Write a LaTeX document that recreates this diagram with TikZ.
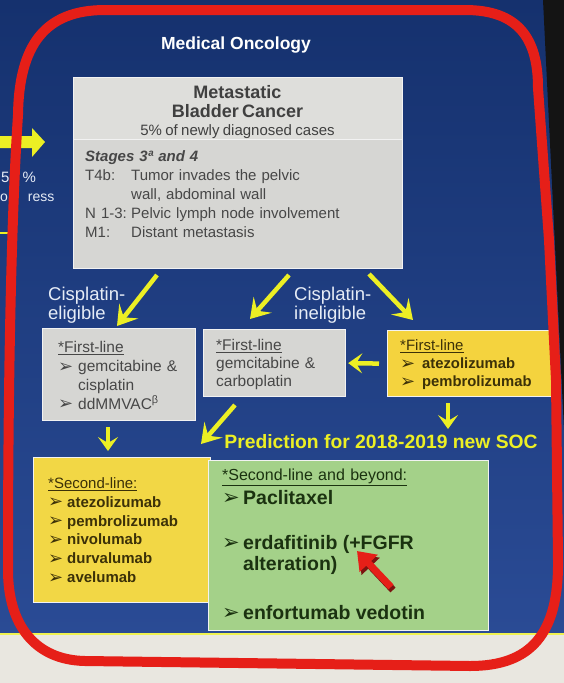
\documentclass[tikz,border=0pt]{standalone}
\usepackage{fontspec}
\setmainfont{Liberation Sans}
\newfontfamily\symfont{DejaVu Sans}
\usetikzlibrary{arrows.meta,positioning}

\definecolor{slidetop}{HTML}{15316E}
\definecolor{slidebot}{HTML}{2A4B95}
\definecolor{floorgray}{HTML}{E9E7E0}
\definecolor{boxgray}{HTML}{D6D6D3}
\definecolor{headgray}{HTML}{DEDEDB}
\definecolor{ioyellow}{HTML}{F4D33E}
\definecolor{soyellow}{HTML}{F2D745}
\definecolor{socgreen}{HTML}{A4D189}
\definecolor{penred}{HTML}{E61F18}
\definecolor{penshade}{HTML}{7A1410}
\definecolor{arrowyellow}{HTML}{ECEF24}
\definecolor{labelwhite}{HTML}{E6ECF6}
\definecolor{graytext}{HTML}{474747}
\definecolor{yellowtext}{HTML}{3C3108}
\definecolor{greentext}{HTML}{1B3210}

\newcommand{\bul}[2][18]{\makebox[#2][l]{\raisebox{-0.5pt}{\symfont\fontsize{#1}{#1}\selectfont ➢}}}
\newcommand{\fs}[2]{\fontsize{#1}{#2}\selectfont}

\begin{document}
\begin{tikzpicture}[x=1pt,y=-1pt,
  panel/.style={draw=white!90!gray, line width=1.2pt, inner sep=0pt, anchor=north west},
  txt/.style={inner sep=0pt, anchor=north west, align=left},
  flow/.style={draw=arrowyellow, line width=4.5pt, -{Stealth[length=19pt,width=24pt,inset=8pt]}},
  shortflow/.style={flow, -{Stealth[length=14pt,width=20pt,inset=6pt]}},
  choice/.style={txt, text width=90pt, text=labelwhite, font=\fs{18.5}{19.5}}
]
\useasboundingbox (0,0) rectangle (564,683);

% slide and the room round it
\fill[floorgray] (0,0) rectangle (564,683);
\shade[top color=slidetop, bottom color=slidebot] (0,0) rectangle (564,634);
\fill[black!92] (543,0) -- (564,0) -- (564,430) -- cycle;
\draw[arrowyellow!80!white, line width=1.5pt] (0,634) -- (564,634);

% what is left of the slide before
\fill[arrowyellow] (0,136) -- (32,136) -- (32,128) -- (45,142) -- (32,157) -- (32,148) -- (0,148) -- cycle;
\node[inner sep=0pt, anchor=base west, text=labelwhite, font=\fs{15}{18}] (pct) at (1,182) {5\hspace{13pt}\%};
\node[inner sep=0pt, anchor=base west, text=labelwhite, font=\fs{14}{18}] (prog) at (0,201) {o\hspace{20pt}ress};
\draw[arrowyellow, line width=1.2pt] (0,233) -- (9,233);

\node[font=\bfseries\fs{17.5}{20}, text=white] (title) at (236,45) {Medical Oncology};

% metastatic bladder cancer
\node[panel, fill=boxgray, minimum width=329pt, minimum height=191pt] (mbc) at (73,77) {};
\node[panel, fill=headgray, minimum width=329pt, minimum height=62pt] (mbchead) at (73,77) {};
\node[txt, anchor=north, align=center, text width=320pt, text=black!75] (mbctitle) at (237.5,85.5)
  {\bfseries\fs{18}{19}Metastatic\\Bladder Cancer\par\mdseries\fs{15}{18}5\% of newly diagnosed cases\par};
\node[txt, text width=315pt, text=graytext, font=\fs{15}{19}] (stages) at ([shift={(12,73.5)}]mbc.north west)
  {{\bfseries\itshape Stages 3ª and 4}\\
   \makebox[46pt][l]{T4b:}Tumor invades the pelvic\\
   \hspace*{46pt}wall, abdominal wall\\
   \makebox[46pt][l]{N 1-3:}Pelvic lymph node involvement\\
   \makebox[46pt][l]{M1:}Distant metastasis};

% first line
\node[choice] (eliglabel) at (48,286.5) {Cisplatin-\\eligible};
\node[choice] (inellabel) at (294,286.5) {Cisplatin-\\ineligible};

\node[panel, fill=boxgray, minimum width=153pt, minimum height=92pt] (elig1) at (42,328) {};
\node[txt, text width=140pt, text=graytext, font=\fs{15.5}{18.7}] (eligtext) at ([shift={(16,13.5)}]elig1.north west)
  {\underline{*First-line}\\
   \bul{20pt}gemcitabine \&\\
   \hspace*{20pt}cisplatin\\
   \bul{20pt}ddMMVAC\textsuperscript{β}};

\node[panel, fill=boxgray, minimum width=142pt, minimum height=67pt] (inel1) at (203,329) {};
\node[txt, text width=130pt, text=graytext, font=\fs{15.5}{17.7}] (ineltext) at ([shift={(13,10.5)}]inel1.north west)
  {\underline{*First-line}\\
   gemcitabine \&\\
   carboplatin};

\node[panel, fill=ioyellow, minimum width=164pt, minimum height=66pt] (io1) at (387,330) {};
\node[txt, text width=155pt, text=yellowtext, font=\fs{15}{18}] (iotext) at ([shift={(13,9.5)}]io1.north west)
  {\underline{*First-line}\\
   \bul{22pt}{\bfseries\fs{14.8}{18}atezolizumab}\\
   \bul{22pt}{\bfseries\fs{14.8}{18}pembrolizumab}};

\node[font=\bfseries\fs{19.3}{22}, text=arrowyellow] (pred) at (381,442) {Prediction for 2018-2019 new SOC};

% second line
\node[panel, fill=soyellow, minimum width=177pt, minimum height=145pt] (so2) at (33,457) {};
\node[txt, text width=160pt, text=yellowtext, font=\fs{15}{18.8}] (so2text) at ([shift={(15,20.5)}]so2.north west)
  {\underline{*Second-line:}\\
   \bul{19pt}\textbf{atezolizumab}\\
   \bul{19pt}\textbf{pembrolizumab}\\
   \bul{19pt}\textbf{nivolumab}\\
   \bul{19pt}\textbf{durvalumab}\\
   \bul{19pt}\textbf{avelumab}};

\node[panel, fill=socgreen, minimum width=280pt, minimum height=170pt] (soc) at (208,460) {};
\node[txt, text width=265pt, text=greentext, font=\fs{16}{18}] (soctext) at ([shift={(14,9)}]soc.north west)
  {\underline{*Second-line and beyond:}\par\vspace{2.5pt}
   \bfseries\fs{19.5}{21}%
   \bul[21]{21pt}Paclitaxel\\[24pt]
   \bul[21]{21pt}erdafitinib (+FGFR\\
   \hspace*{21pt}alteration)\\[28pt]
   \bul[21]{21pt}enfortumab vedotin\par};

% arrows
\coordinate (a1s) at (157,275);  \coordinate (a1e) at (117,326);
\coordinate (a2s) at (289,275);  \coordinate (a2e) at (250,319);
\coordinate (a3s) at (369,274);  \coordinate (a3e) at (413,320);
\coordinate (a5s) at (448,403);  \coordinate (a5e) at (448,429);
\coordinate (a6s) at (108,427);  \coordinate (a6e) at (108,451);
\coordinate (a7s) at (235,405);  \coordinate (a7e) at (201,444);
\draw[flow] (a1s) -- (a1e);
\draw[flow] (a2s) -- (a2e);
\draw[flow] (a3s) -- (a3e);
\draw[shortflow] ([xshift=-8pt]io1.west) -- ([xshift=2pt]inel1.east);
\draw[shortflow] (a5s) -- (a5e);
\draw[shortflow] (a6s) -- (a6e);
\draw[flow] (a7s) -- (a7e);

% pointer
\coordinate (curtail) at (391,587);
\coordinate (curtip) at (357,551);
\draw[line width=7pt, penshade, -{Triangle[length=17pt,width=24pt]}] ([shift={(2,3)}]curtail) -- ([shift={(2,3)}]curtip);
\draw[line width=7pt, penred, -{Triangle[length=17pt,width=24pt]}] (curtail) -- (curtip);

% red pen round it all
\draw[penred, line width=10pt, line join=round]
  (105,10) -- (465,10) .. controls (518,10) and (538,38) .. (538,88)
  -- (549,240) -- (556,380) -- (558,560)
  .. controls (559,635) and (530,666) .. (470,666) -- (85,661)
  .. controls (35,660) and (8,625) .. (8,570)
  .. controls (8,330) and (13,190) .. (18,115)
  .. controls (19,45) and (45,10) .. (105,10) -- cycle;
\end{tikzpicture}
\end{document}
